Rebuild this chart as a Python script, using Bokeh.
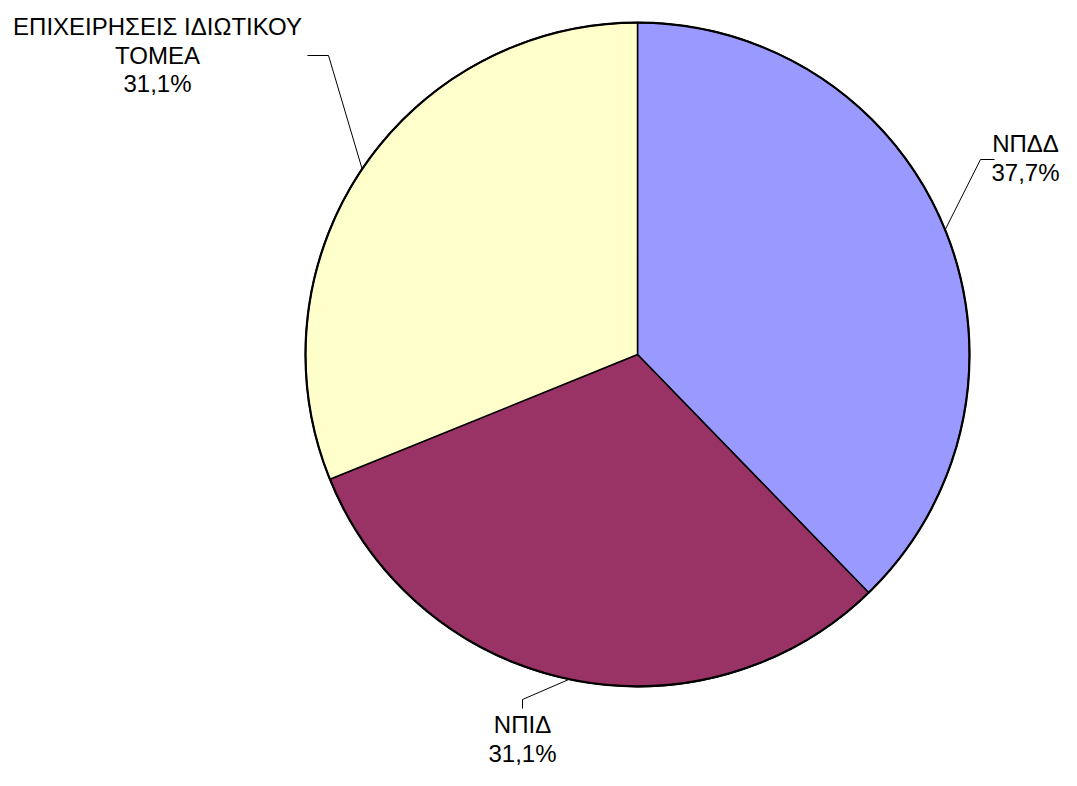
import math
from bokeh.plotting import figure
from bokeh.models import Range1d
from bokeh.core.properties import value
from bokeh.embed import file_html
from bokeh.resources import INLINE

# ---- data ----
categories = ["ΝΠΔΔ", "ΝΠΙΔ", "ΕΠΙΧΕΙΡΗΣΕΙΣ ΙΔΙΩΤΙΚΟΥ\nΤΟΜΕΑ"]
percent_labels = ["37,7%", "31,1%", "31,1%"]
values = [37.7, 31.1, 31.1]
colors = ["#9999FF", "#993366", "#FFFFCC"]

# ---- layout (image-pixel space, y measured downward) ----
FW, FH = 1061, 770
CX, CY, R = 637, 354, 332
elbows = [(980, 159), (522, 699), (328, 55)]
ends = [(994, 159), (522, 708), (307, 55)]
label_x = [1025, 522, 157]
label_y0 = [143, 724, 26]
ROW = 28.5

def Y(y):
    return FH - y

p = figure(width=FW, height=FH, output_backend="svg", toolbar_location=None,
           x_range=Range1d(0, FW), y_range=Range1d(0, FH), min_border=0)
p.axis.visible = False
p.grid.visible = False
p.outline_line_color = None
p.background_fill_color = "white"
p.border_fill_color = "white"

total = sum(values)
cum = 0.0
mids = []
for v, c in zip(values, colors):
    a0 = cum / total * 2 * math.pi
    a1 = (cum + v) / total * 2 * math.pi
    p.wedge(x=CX, y=Y(CY), radius=R, start_angle=math.pi / 2 - a0, end_angle=math.pi / 2 - a1,
            direction="clock", fill_color=c, line_color="black", line_width=1.5)
    mids.append((a0 + a1) / 2)
    cum += v

p.circle(x=CX, y=Y(CY), radius=R, fill_color=None, line_color="black", line_width=2.2)

for i, m in enumerate(mids):
    ex = CX + R * math.sin(m)
    ey = CY - R * math.cos(m)
    xs = [ex, elbows[i][0], ends[i][0]]
    ys = [Y(ey), Y(elbows[i][1]), Y(ends[i][1])]
    p.line(xs, ys, line_color="black", line_width=1)
    rows = categories[i].split("\n") + [percent_labels[i]]
    for k, r in enumerate(rows):
        p.text(x=[label_x[i]], y=[Y(label_y0[i] + k * ROW)], text=[r],
               text_align="center", text_baseline="middle",
               text_font=value("Liberation Sans"), text_font_size="24px", text_color="black")

open("out.html", "w").write(file_html(p, INLINE))
